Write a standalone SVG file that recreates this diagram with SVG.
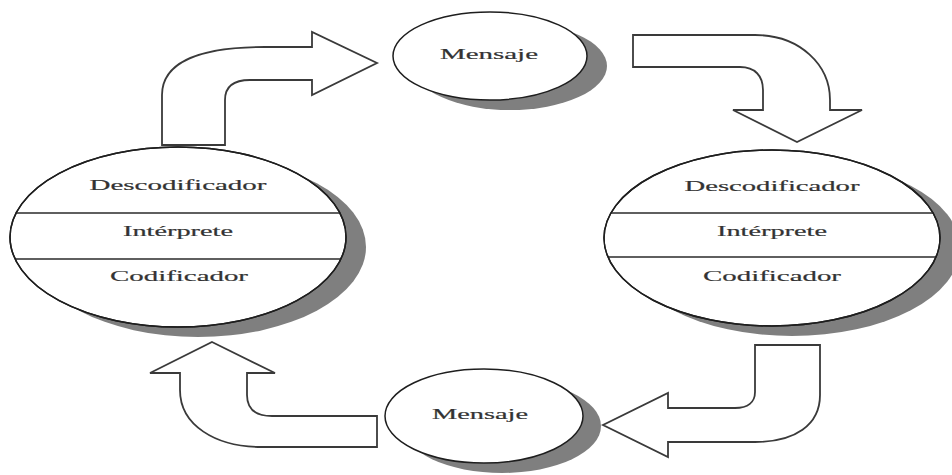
<svg xmlns="http://www.w3.org/2000/svg" width="952" height="475" viewBox="0 0 952 475">
  <style>
    .shadow { fill: #7f7f7f; stroke: none; }
    .node { fill: #ffffff; stroke: #1e1e1e; stroke-width: 1.5; }
    .div { stroke: #2a2a2a; stroke-width: 1.3; }
    .arrow { fill: #ffffff; stroke: #3a3a3a; stroke-width: 1.8; stroke-linejoin: miter; }
    .label { font-family: "Liberation Serif", "DejaVu Serif", serif; font-size: 15.5px; fill: #333333; stroke: #333333; stroke-width: 0.2; text-anchor: middle; }
  </style>
  <defs>
    <clipPath id="clipLeft"><ellipse cx="178" cy="237" rx="168" ry="90"/></clipPath>
    <clipPath id="clipRight"><ellipse cx="772" cy="238" rx="168" ry="88"/></clipPath>
  </defs>
  <rect width="952" height="475" fill="#ffffff"/>

  <g id="connectors">
    <path id="arrow-top-left" class="arrow" d="M162,145 L162,95 C162,62 200,47 265,47 L312,47 L312,32 L377,63 L312,95 L312,80 L250,80 C235,80 225,86 225,100 L225,145 Z"/>
    <path id="arrow-top-right" class="arrow" d="M633,35 L755,35 C800,35 830,65 830,100 L830,110 L862,110 L797,142 L733,110 L763,110 L763,90 C763,76 755,67 740,67 L633,67 Z"/>
    <path id="arrow-bottom-right" class="arrow" d="M755,345 L820,345 L820,395 C820,425 795,442 755,442 L668,442 L668,457 L603,425 L668,393 L668,408 L735,408 C748,408 755,402 755,392 Z"/>
    <path id="arrow-bottom-left" class="arrow" d="M212,342 L275,373 L247,373 L247,395 C247,410 257,416 272,416 L377,416 L377,447 L262,447 C215,447 180,425 180,390 L180,373 L150,373 Z"/>
  </g>

  <g id="node-mensaje-top">
    <ellipse class="shadow" cx="510" cy="66" rx="97" ry="44"/>
    <ellipse class="node" cx="490" cy="56" rx="97" ry="44"/>
    <text class="label" x="489" y="59" textLength="98" lengthAdjust="spacingAndGlyphs">Mensaje</text>
  </g>

  <g id="node-left">
    <ellipse class="shadow" cx="198" cy="247" rx="168" ry="90"/>
    <ellipse class="node" cx="178" cy="237" rx="168" ry="90"/>
    <g clip-path="url(#clipLeft)">
      <line class="div" x1="0" y1="213" x2="360" y2="213"/>
      <line class="div" x1="0" y1="259" x2="360" y2="259"/>
    </g>
    <ellipse cx="178" cy="237" rx="168" ry="90" fill="none" stroke="#1e1e1e" stroke-width="1.5"/>
    <text class="label" x="178" y="190" textLength="177" lengthAdjust="spacingAndGlyphs">Descodificador</text>
    <text class="label" x="178" y="236" textLength="110" lengthAdjust="spacingAndGlyphs">Intérprete</text>
    <text class="label" x="179" y="281" textLength="138" lengthAdjust="spacingAndGlyphs">Codificador</text>
  </g>

  <g id="node-right">
    <ellipse class="shadow" cx="792" cy="248" rx="168" ry="88"/>
    <ellipse class="node" cx="772" cy="238" rx="168" ry="88"/>
    <g clip-path="url(#clipRight)">
      <line class="div" x1="590" y1="213" x2="950" y2="213"/>
      <line class="div" x1="590" y1="257" x2="950" y2="257"/>
    </g>
    <ellipse cx="772" cy="238" rx="168" ry="88" fill="none" stroke="#1e1e1e" stroke-width="1.5"/>
    <text class="label" x="772" y="191" textLength="175" lengthAdjust="spacingAndGlyphs">Descodificador</text>
    <text class="label" x="772" y="236" textLength="110" lengthAdjust="spacingAndGlyphs">Intérprete</text>
    <text class="label" x="772" y="281" textLength="138" lengthAdjust="spacingAndGlyphs">Codificador</text>
  </g>

  <g id="node-mensaje-bottom">
    <ellipse class="shadow" cx="502" cy="426" rx="99" ry="47"/>
    <ellipse class="node" cx="484" cy="416" rx="99" ry="47"/>
    <text class="label" x="480" y="419" textLength="96" lengthAdjust="spacingAndGlyphs">Mensaje</text>
  </g>
</svg>
